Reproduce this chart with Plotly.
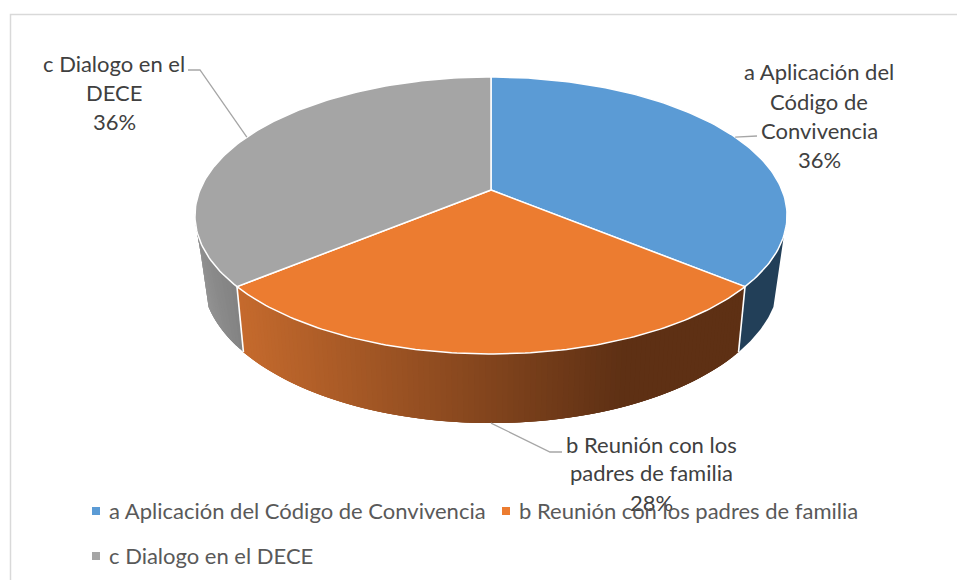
import numpy as np
import plotly.graph_objects as go

categories = ["a Aplicación del Código de Convivencia", "b Reunión con los padres de familia", "c Dialogo en el DECE"]
values = [36, 28, 36]
wrapped_labels = [["a Aplicación del", "Código de", "Convivencia"], ["b Reunión con los", "padres de familia"], ["c Dialogo en el", "DECE"]]
top_colors = ["#5B9BD5", "#EC7C30", "#A5A5A5"]

W, H = 957, 580
K = 0.184
CX = 491
TOP_CY, TOP_AX, TOP_AY = 190, 291, 133.8
BOT_CY, BOT_AX, BOT_AY = 250.4, 283.6, 140.9
FONT = "Lato"
LABEL_COLOR = "#404040"
LEGEND_COLOR = "#595959"
LEADER = "#A6A6A6"


def project(theta, cy, ax, ay):
    u, v = np.sin(theta), -np.cos(theta)
    d = 1 - K * v
    return CX + ax * u / d, cy + ay * v / d


def top(theta):
    return project(theta, TOP_CY, TOP_AX, TOP_AY)


def bot(theta):
    return project(theta, BOT_CY, BOT_AX, BOT_AY)


def lerp(a, b, t):
    t = min(max(t, 0), 1)
    return "rgb(%d,%d,%d)" % tuple(round(a[i] + (b[i] - a[i]) * t) for i in range(3))


def side_color(i, x):
    if i == 0:
        return "rgb(34,63,88)"
    if i == 1:
        return lerp((197, 106, 45), (94, 48, 20), (x - 244) / (620 - 244))
    return lerp((152, 152, 152), (130, 130, 130), (x - 197) / (244 - 197))


shares = np.array(values, dtype=float) / sum(values)
edges = np.concatenate([[0], np.cumsum(shares)]) * 2 * np.pi
fig = go.Figure()


def poly(xs, ys, fill, line=None, width=0.0):
    fig.add_trace(go.Scatter(x=list(xs), y=list(ys), mode="lines", fill="toself", fillcolor=fill,
                             line=dict(color=line or fill, width=width), hoverinfo="skip", showlegend=False))


def stroke(xs, ys, color, width):
    fig.add_trace(go.Scatter(x=list(xs), y=list(ys), mode="lines", line=dict(color=color, width=width),
                             hoverinfo="skip", showlegend=False))


# Visible side wall of each slice: overlapping strips painted in order, so no seams show.
# The outer silhouette of the wall joins the upper rim and the lower rim at different angles.
wall_top = [(np.radians(100), edges[1]), (edges[1], edges[2]), (edges[2], np.radians(260))]
wall_bot = [(np.radians(112), edges[1]), (edges[1], edges[2]), (edges[2], np.radians(248))]
steps = [1, 110, 14]
for i in range(3):
    n = steps[i]
    tt_top = np.linspace(wall_top[i][0], wall_top[i][1], n + 1)
    tt_bot = np.linspace(wall_bot[i][0], wall_bot[i][1], n + 1)
    for j in range(n):
        k = min(j + 3, n)
        pts = 40 if n == 1 else 6
        xt, yt = top(np.linspace(tt_top[j], tt_top[k], pts))
        xb, yb = bot(np.linspace(tt_bot[j], tt_bot[k], pts))
        xs = np.concatenate([xt, xb[::-1]])
        ys = np.concatenate([yt, yb[::-1]])
        xmid = float(bot((tt_bot[j] + tt_bot[j + 1]) / 2)[0])
        poly(xs, ys, side_color(i, xmid))

# White seams between the side walls
for e in (edges[1], edges[2]):
    xt, yt = top(e)
    xb, yb = bot(e)
    stroke([xt, xb], [yt, yb], "white", 1.6)

# Top faces
for i in range(3):
    th = np.linspace(edges[i], edges[i + 1], 120)
    x, y = top(th)
    poly(np.concatenate([[CX], x, [CX]]), np.concatenate([[TOP_CY], y, [TOP_CY]]), top_colors[i], "white", 1.5)

# Leader lines
mids = (edges[:-1] + edges[1:]) / 2
ax_, ay_ = top(mids[0])
stroke([ax_, 757], [ay_, 136], LEADER, 1.3)
bx_, by_ = bot(mids[1])
stroke([bx_, 550, 562], [by_, 452, 452], LEADER, 1.3)
cx_, cy_ = top(mids[2])
stroke([cx_, 200, 188], [cy_, 70, 70], LEADER, 1.3)

# Data labels
label_pos = [(819, [71, 101, 130, 159]), (651, [444.5, 472.5, 502.5]), (114, [63.5, 92.5, 121.5])]
pct = [f"{round(s * 100)}%" for s in shares]
annotations = []
for i, (lx, ys) in enumerate(label_pos):
    for text, ly in zip(wrapped_labels[i] + [pct[i]], ys):
        annotations.append(dict(x=lx, y=ly, text=text, showarrow=False, xanchor="center", yanchor="middle",
                                font=dict(family=FONT, size=22, color=LABEL_COLOR)))

# Legend
legend_pos = [(96, 511), (506, 511), (96, 556)]
for i, (lx, ly) in enumerate(legend_pos):
    fig.add_trace(go.Scatter(x=[lx], y=[ly], mode="markers", marker=dict(symbol="square", size=8, color=top_colors[i]),
                             hoverinfo="skip", showlegend=False))
    annotations.append(dict(x=lx + 11, y=ly - 1, text=categories[i], showarrow=False, xanchor="left", yanchor="middle",
                            font=dict(family=FONT, size=22, color=LEGEND_COLOR)))

fig.update_layout(
    width=W, height=H, autosize=False, margin=dict(l=0, r=0, t=0, b=0),
    paper_bgcolor="white", plot_bgcolor="white", showlegend=False,
    xaxis=dict(range=[0, W], visible=False, fixedrange=True),
    yaxis=dict(range=[H, 0], visible=False, fixedrange=True),
    annotations=annotations,
    shapes=[dict(type="rect", x0=10.5, y0=14.5, x1=W + 20, y1=H + 20, line=dict(color="#D9D9D9", width=1.5), layer="below")],
)
fig.write_html("out.html", config={"displayModeBar": False}, post_script="document.body.style.margin='0';")
